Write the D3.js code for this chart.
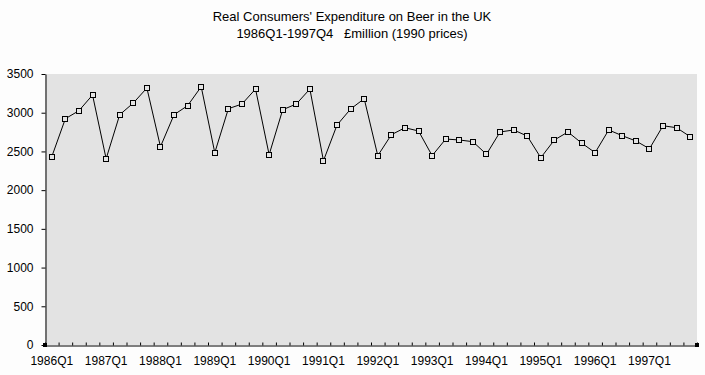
<!DOCTYPE html>
<html>
<head>
<meta charset="utf-8">
<script src="https://cdn.jsdelivr.net/npm/d3@7"></script>
<style>
body { margin: 0; background: #fdfdfd; }
svg { display: block; font-family: Arial, "Liberation Sans", sans-serif; }
</style>
</head>
<body>
<svg id="chart" width="705" height="375"></svg>
<script>
const titleLines = ["Real Consumers' Expenditure on Beer in the UK", "1986Q1-1997Q4   \u00a3million (1990 prices)"];
const years = d3.range(1986, 1998);
const quarters = years.flatMap(y => [1, 2, 3, 4].map(q => `${y}Q${q}`));
const beer = [
  2432, 2923, 3026, 3229, 2406, 2974, 3125, 3319, 2561, 2974, 3091, 3336,
  2484, 3052, 3112, 3306, 2458, 3039, 3112, 3306, 2380, 2841, 3048, 3181,
  2445, 2716, 2806, 2764, 2445, 2660, 2648, 2626, 2463, 2751, 2777, 2699,
  2419, 2648, 2751, 2609, 2484, 2777, 2703, 2635, 2535, 2832, 2806, 2690
];
const yTicks = [0, 500, 1000, 1500, 2000, 2500, 3000, 3500];
const xLabels = quarters.filter(q => q.endsWith("Q1"));

const svg = d3.select("#chart");
const plot = { left: 45, right: 697, top: 74, bottom: 345 };

const x = d3.scaleBand().domain(quarters).range([plot.left, plot.right]);
const xEdge = d3.scaleLinear().domain([0, quarters.length]).range([plot.left, plot.right]);
const y = d3.scaleLinear().domain([0, 3500]).range([plot.bottom, plot.top]);
const cx = d => x(d) + x.bandwidth() / 2;

// title
svg.append("g").selectAll("text").data(titleLines).join("text")
  .attr("x", 352).attr("y", (d, i) => 21 + i * 17)
  .attr("text-anchor", "middle").attr("font-size", 13).attr("fill", "#000")
  .style("white-space", "pre")
  .text(d => d);

// plot area
svg.append("rect")
  .attr("x", plot.left).attr("y", plot.top)
  .attr("width", plot.right - plot.left).attr("height", plot.bottom - plot.top)
  .attr("fill", "#e3e3e3");

// y axis
const yAxis = svg.append("g")
  .attr("transform", `translate(${plot.left + 0.5},0)`)
  .call(d3.axisLeft(y).tickValues(yTicks).tickFormat(d3.format("d"))
    .tickSize(4).tickPadding(8).tickSizeOuter(0));
yAxis.select(".domain").attr("stroke", "#000");
yAxis.selectAll("text").attr("font-size", 12).attr("font-family", "Arial, 'Liberation Sans', sans-serif").attr("fill", "#000");

// x axis ticks between categories
const xTickAxis = svg.append("g")
  .attr("transform", `translate(0,${plot.bottom + 0.5})`)
  .call(d3.axisTop(xEdge).tickValues(d3.range(0, quarters.length + 1)).tickSize(3).tickSizeOuter(0).tickFormat(""));
xTickAxis.select(".domain").attr("stroke", "#000");

// x labels
const xLabelAxis = svg.append("g")
  .attr("transform", `translate(0,${plot.bottom})`)
  .call(d3.axisBottom(x).tickValues(xLabels).tickSize(0).tickPadding(11));
xLabelAxis.select(".domain").remove();
xLabelAxis.selectAll("text").attr("font-size", 12).attr("font-family", "Arial, 'Liberation Sans', sans-serif").attr("fill", "#000");

// corner handles
svg.append("g").selectAll("rect").data([plot.left, plot.right]).join("rect")
  .attr("x", d => d - 2).attr("y", plot.bottom - 2).attr("width", 4).attr("height", 4).attr("fill", "#000");

// series
const line = d3.line().x((d, i) => cx(quarters[i])).y(d => y(d));
svg.append("path").datum(beer)
  .attr("fill", "none").attr("stroke", "#000").attr("stroke-width", 1)
  .attr("d", line);

svg.append("g").selectAll("rect").data(beer).join("rect")
  .attr("x", (d, i) => Math.round(cx(quarters[i])) - 2.5)
  .attr("y", d => Math.round(y(d)) - 2.5)
  .attr("width", 5).attr("height", 5)
  .attr("fill", "#e3e3e3").attr("stroke", "#000").attr("stroke-width", 1);
</script>
</body>
</html>
